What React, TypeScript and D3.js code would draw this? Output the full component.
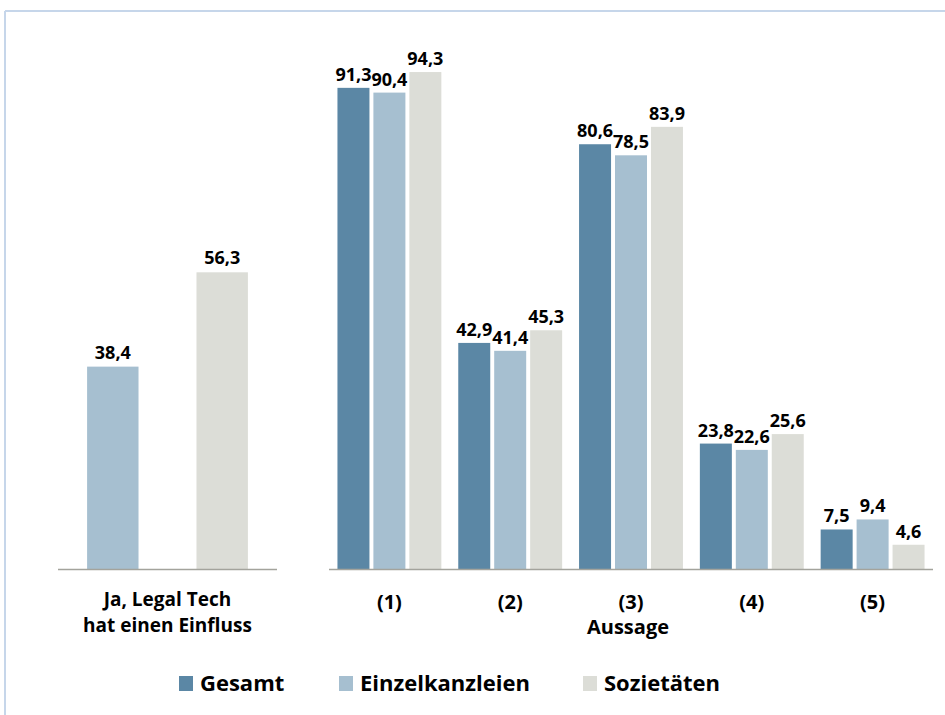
import React from "react";
import * as d3 from "d3";

const series = ["Gesamt", "Einzelkanzleien", "Sozietäten"];
const colors = ["#5b87a5", "#a6bfd0", "#dcddd7"];

const leftSeries = ["Einzelkanzleien", "Sozietäten"];
const leftValues = [38.4, 56.3];
const leftLabel = ["Ja, Legal Tech", "hat einen Einfluss"];

const statements = ["(1)", "(2)", "(3)", "(4)", "(5)"];
const gesamt = [91.3, 42.9, 80.6, 23.8, 7.5];
const einzel = [90.4, 41.4, 78.5, 22.6, 9.4];
const sozietaeten = [94.3, 45.3, 83.9, 25.6, 4.6];
const axisTitle = "Aussage";

const fmt = (v: number) => v.toFixed(1).replace(".", ",");
const FONT = "'Open Sans', 'DejaVu Sans', sans-serif";

export default function App() {
  const W = 945, H = 715;
  const baseY = 569;
  const y = d3.scaleLinear().domain([0, 100]).range([baseY, baseY - 527]);

  const xl = d3.scaleBand<string>().domain(leftSeries).range([58, 277]).paddingInner(0.53).paddingOuter(0.266);
  const x0 = d3.scaleBand<string>().domain(statements).range([329, 933]).paddingInner(0.14).paddingOuter(0.07);
  const x1 = d3.scaleBand<string>().domain(series).range([0, x0.bandwidth()]).paddingInner(0.11);
  const groups = [gesamt, einzel, sozietaeten];

  const legendX = [179, 339, 583];

  return (
    <svg width={W} height={H} style={{ position: "absolute", left: 0, top: 0, background: "#fff" }} fontFamily={FONT}>
      <rect x={0} y={0} width={W} height={H} fill="#fff" />
      <line x1={5} y1={11} x2={W} y2={11} stroke="#c6d6ea" strokeWidth={2} />
      <line x1={5} y1={11} x2={5} y2={H} stroke="#c6d6ea" strokeWidth={2} />

      {/* left panel */}
      {leftSeries.map((s, i) => (
        <g key={s}>
          <rect x={xl(s)} y={y(leftValues[i])} width={xl.bandwidth()} height={baseY - y(leftValues[i])}
            fill={colors[series.indexOf(s)]} />
          <text x={xl(s)! + xl.bandwidth() / 2} y={y(leftValues[i]) - 8} textAnchor="middle"
            fontSize={18} fontWeight="bold" fill="#000">{fmt(leftValues[i])}</text>
        </g>
      ))}
      <line x1={58} x2={277} y1={baseY + 0.5} y2={baseY + 0.5} stroke="#a3a39c" strokeWidth={1.5} />
      {leftLabel.map((t, i) => (
        <text key={t} x={167.5} y={606 + i * 26} textAnchor="middle" fontSize={19} fontWeight="bold" fill="#000">{t}</text>
      ))}

      {/* right panel */}
      {statements.map((st, gi) => (
        <g key={st} transform={`translate(${x0(st)},0)`}>
          {series.map((s, si) => {
            const v = groups[si][gi];
            return (
              <g key={s}>
                <rect x={x1(s)} y={y(v)} width={x1.bandwidth()} height={baseY - y(v)} fill={colors[si]} />
                <text x={x1(s)! + x1.bandwidth() / 2} y={y(v) - 7} textAnchor="middle"
                  fontSize={18} fontWeight="bold" fill="#000">{fmt(v)}</text>
              </g>
            );
          })}
          <text x={x0.bandwidth() / 2} y={609} textAnchor="middle" fontSize={20} fontWeight="bold" fill="#000">{st}</text>
        </g>
      ))}
      <line x1={329} x2={933} y1={baseY + 0.5} y2={baseY + 0.5} stroke="#a3a39c" strokeWidth={1.5} />
      <text x={628} y={634} textAnchor="middle" fontSize={20} fontWeight="bold" fill="#000">{axisTitle}</text>

      {/* legend */}
      {series.map((s, i) => (
        <g key={s}>
          <rect x={legendX[i]} y={676} width={14} height={15} fill={colors[i]} />
          <text x={legendX[i] + 21} y={691} fontSize={22} fontWeight="bold" fill="#000">{s}</text>
        </g>
      ))}
    </svg>
  );
}
